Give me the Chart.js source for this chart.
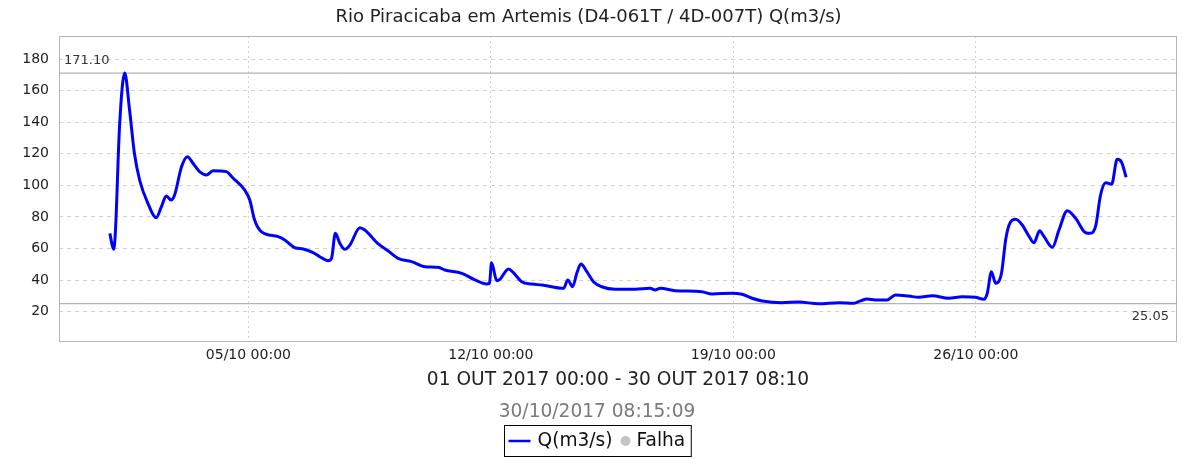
<!DOCTYPE html>
<html>
<head>
<meta charset="utf-8">
<title>Rio Piracicaba em Artemis</title>
<script src="https://cdn.jsdelivr.net/npm/chart.js@4.4.0/dist/chart.umd.min.js"></script>
<style>
  html, body { margin: 0; padding: 0; background: #ffffff; }
  #wrap { width: 1183px; height: 459px; }
</style>
</head>
<body>
<div id="wrap"><canvas id="vazaoChart" width="1183" height="459"></canvas></div>
<script>
// tempo em dias contados a partir de 01/10/2017 00:00
const dias = [
  0.00, 0.11, 0.16, 0.28, 0.43, 0.57, 0.71, 0.86, 1.10, 1.34,
  1.49, 1.63, 1.77, 1.87, 2.07, 2.24, 2.40, 2.59, 2.79, 2.98,
  3.36, 3.56, 3.89, 4.04, 4.18, 4.37, 4.86, 5.05, 5.34, 5.58,
  5.87, 6.06, 6.30, 6.40, 6.51, 6.64, 6.78, 6.93, 7.22, 7.36,
  7.75, 8.04, 8.32, 8.71, 9.10, 9.48, 9.67, 10.16, 10.54, 10.88,
  10.96, 11.02, 11.17, 11.26, 11.51, 11.65, 11.89, 12.18, 12.47, 13.10,
  13.22, 13.36, 13.48, 13.60, 13.77, 13.96, 14.20, 14.59, 15.17, 15.60,
  15.74, 15.89, 16.32, 17.09, 17.38, 17.96, 18.25, 18.54, 18.83, 19.40,
  19.89, 20.46, 21.04, 21.48, 21.67, 21.86, 22.10, 22.44, 22.68, 23.06,
  23.35, 23.74, 24.22, 24.61, 24.99, 25.23, 25.33, 25.45, 25.57, 25.74,
  25.86, 25.96, 26.15, 26.34, 26.54, 26.68, 26.84, 26.97, 27.21, 27.40,
  27.64, 27.88, 28.17, 28.31, 28.46, 28.60, 28.75, 28.92, 29.08, 29.20,
  29.34
];
// vazao Q(m3/s)
const vazao = [
  69.6, 59.5, 70.0, 137.0, 171.10, 147.7, 120.3, 103.4, 88.6, 79.5,
  86.5, 93.3, 90.7, 93.9, 111.8, 118.2, 114.0, 108.7, 106.6, 109.3,
  108.7, 104.5, 97.1, 90.7, 78.0, 70.7, 67.5, 65.4, 60.5, 59.7,
  57.4, 54.8, 52.3, 53.8, 69.6, 63.3, 59.5, 62.2, 73.2, 71.7,
  62.9, 58.4, 53.8, 51.7, 48.5, 48.1, 46.4, 44.3, 40.1, 37.5,
  38.0, 51.0, 39.6, 40.5, 47.0, 44.7, 39.0, 37.5, 36.9, 34.8,
  40.1, 35.8, 44.3, 50.2, 45.3, 39.0, 35.8, 34.2, 34.2, 34.8,
  33.7, 34.8, 33.3, 32.7, 31.2, 31.7, 31.0, 28.5, 26.8, 25.7,
  26.1, 25.05, 25.7, 25.3, 26.8, 28.0, 27.4, 27.4, 30.6, 29.9,
  29.1, 30.1, 28.5, 29.5, 29.1, 27.9, 31.7, 45.3, 38.0, 44.3,
  65.4, 74.9, 78.5, 74.9, 67.5, 63.7, 71.3, 67.5, 60.8, 71.7,
  84.0, 79.2, 70.0, 69.6, 74.3, 93.9, 101.7, 100.7, 116.5, 115.0,
  105.1
];
const ticksDias = [4, 11, 18, 25];
const ticksRotulos = ['05/10 00:00', '12/10 00:00', '19/10 00:00', '26/10 00:00'];
const ticksVazao = [20, 40, 60, 80, 100, 120, 140, 160, 180];

const titulo = 'Rio Piracicaba em Artemis (D4-061T / 4D-007T) Q(m3/s)';
const periodo = '01 OUT 2017 00:00 - 30 OUT 2017 08:10';
const geradoEm = '30/10/2017 08:15:09';
const nomeSerie = 'Q(m3/s)';
const nomeFalha = 'Falha';

const FONTE = 'DejaVu Sans';
const qMax = Math.max(...vazao);
const qMin = Math.min(...vazao);

// margem de 5% nas pontas do eixo do tempo
const span = dias[dias.length - 1] - dias[0];
const xIni = dias[0] - span * 0.05;
const xFim = dias[dias.length - 1] + span * 0.05;

const serie = dias.map((d, i) => ({ x: d, y: vazao[i] }));

// moldura, rotulos de max/min, data de geracao e legenda
const extras = {
  id: 'extras',
  beforeDatasetsDraw(chart) {
    const { ctx, chartArea: a } = chart;
    ctx.save();
    ctx.strokeStyle = '#b4b4b4';
    ctx.lineWidth = 1;
    ctx.strokeRect(Math.round(a.left) + 0.5, Math.round(a.top) + 0.5,
      Math.round(a.right - a.left) - 1, Math.round(a.bottom - a.top) - 1);
    ctx.restore();
  },
  afterDraw(chart) {
    const { ctx, chartArea: a, scales } = chart;
    ctx.save();
    ctx.fillStyle = '#333333';
    ctx.font = '13px "' + FONTE + '"';
    ctx.textBaseline = 'bottom';
    ctx.textAlign = 'left';
    ctx.fillText(qMax.toFixed(2), a.left + 5, scales.y.getPixelForValue(qMax) - 6);
    ctx.textBaseline = 'top';
    ctx.textAlign = 'right';
    ctx.fillText(qMin.toFixed(2), a.right - 8, scales.y.getPixelForValue(qMin) + 6);

    const cx = 597;
    ctx.font = '18.6px "' + FONTE + '"';
    ctx.textAlign = 'center';
    ctx.textBaseline = 'middle';
    ctx.fillStyle = '#7a7a7a';
    ctx.fillText(geradoEm, cx, 412);

    // legenda com caixa
    const w1 = ctx.measureText(nomeSerie).width;
    const w2 = ctx.measureText(nomeFalha).width;
    const larg = 4 + 22 + 7 + w1 + 8 + 10 + 6 + w2 + 6;
    const x0 = Math.round(cx - larg / 2) + 0.5;
    const y0 = 425.5, alt = 31, ym = y0 + alt / 2;
    ctx.strokeStyle = '#000000';
    ctx.lineWidth = 1;
    ctx.strokeRect(x0, y0, larg, alt);
    ctx.strokeStyle = '#0000ff';
    ctx.lineWidth = 2.5;
    ctx.beginPath();
    ctx.moveTo(x0 + 4, ym);
    ctx.lineTo(x0 + 26, ym);
    ctx.stroke();
    ctx.fillStyle = '#111111';
    ctx.textAlign = 'left';
    let x = x0 + 33;
    ctx.fillText(nomeSerie, x, ym);
    x += w1 + 8;
    ctx.fillStyle = '#c4c4c4';
    ctx.beginPath();
    ctx.arc(x + 5, ym, 5, 0, Math.PI * 2);
    ctx.fill();
    x += 16;
    ctx.fillStyle = '#111111';
    ctx.fillText(nomeFalha, x, ym);
    ctx.restore();
  }
};

Chart.defaults.font.family = FONTE;

new Chart(document.getElementById('vazaoChart'), {
  type: 'line',
  data: {
    datasets: [
      {
        label: nomeSerie,
        data: serie,
        borderColor: '#0000ff',
        borderWidth: 3,
        pointRadius: 0,
        cubicInterpolationMode: 'monotone',
        fill: false,
        order: 0
      },
      {
        label: 'max',
        data: [{ x: xIni, y: qMax }, { x: xFim, y: qMax }],
        borderColor: '#a0a0a0',
        borderWidth: 1,
        pointRadius: 0,
        order: 1
      },
      {
        label: 'min',
        data: [{ x: xIni, y: qMin }, { x: xFim, y: qMin }],
        borderColor: '#a0a0a0',
        borderWidth: 1,
        pointRadius: 0,
        order: 1
      }
    ]
  },
  options: {
    responsive: false,
    animation: false,
    devicePixelRatio: 1,
    layout: { padding: { top: 0, right: 6, bottom: 0, left: 0 } },
    plugins: {
      legend: { display: false },
      tooltip: { enabled: false },
      title: {
        display: true,
        text: titulo,
        color: '#222222',
        font: { size: 18, weight: 'normal' },
        padding: { top: 6.4, bottom: 8 }
      }
    },
    scales: {
      x: {
        type: 'linear',
        min: xIni,
        max: xFim,
        afterFit(scale) { scale.height = 117; },
        afterBuildTicks(scale) { scale.ticks = ticksDias.map(v => ({ value: v })); },
        grid: { color: '#d2d2d2', drawTicks: false },
        border: { display: false, dash: [2, 3] },
        ticks: {
          autoSkip: false,
          maxRotation: 0,
          padding: 5,
          color: '#222222',
          font: { size: 14 },
          callback: (v) => ticksRotulos[ticksDias.indexOf(v)]
        },
        title: {
          display: true,
          text: periodo,
          color: '#222222',
          font: { size: 18.6 },
          padding: { top: 0, bottom: 68 }
        }
      },
      y: {
        min: 0.8,
        max: 194.6,
        afterFit(scale) { scale.width = 59; },
        afterBuildTicks(scale) { scale.ticks = ticksVazao.map(v => ({ value: v })); },
        grid: { color: '#d2d2d2', drawTicks: false },
        border: { display: false, dash: [4, 4] },
        ticks: {
          padding: 10,
          color: '#222222',
          font: { size: 14 }
        }
      }
    }
  },
  plugins: [extras]
});
</script>
</body>
</html>
